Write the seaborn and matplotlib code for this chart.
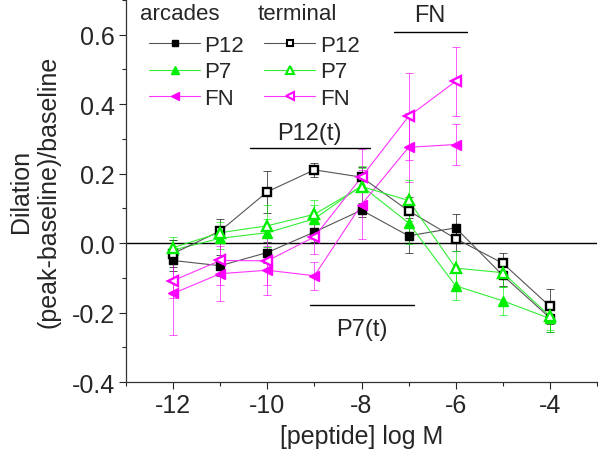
import numpy as np
import pandas as pd
import seaborn as sns
import matplotlib
matplotlib.use("Agg")
import matplotlib.pyplot as plt
from matplotlib.lines import Line2D
from matplotlib.ticker import MultipleLocator

## values
conc = [-12, -11, -10, -9, -8, -7, -6, -5, -4]
conc_fn = [-12, -11, -10, -9, -8, -7, -6]

p12_arc = [-0.050, -0.065, -0.027, 0.032, 0.095, 0.021, 0.044, -0.093, -0.215]
p12_arc_err = [0.03, 0.03, 0.03, 0.03, 0.02, 0.05, 0.04, 0.03, 0.04]
p12_term = [-0.030, 0.035, 0.148, 0.211, 0.190, 0.093, 0.013, -0.058, -0.182]
p12_term_err = [0.04, 0.035, 0.06, 0.02, 0.03, 0.04, 0.035, 0.03, 0.05]

p7_arc = [-0.020, 0.014, 0.030, 0.070, 0.165, 0.058, -0.123, -0.166, -0.217]
p7_arc_err = [0.03, 0.03, 0.04, 0.04, 0.05, 0.06, 0.04, 0.04, 0.04]
p7_term = [-0.013, 0.030, 0.050, 0.083, 0.163, 0.123, -0.072, -0.085, -0.210]
p7_term_err = [0.03, 0.03, 0.06, 0.04, 0.06, 0.06, 0.05, 0.04, 0.04]

fn_arc = [-0.145, -0.088, -0.078, -0.094, 0.111, 0.276, 0.284]
fn_arc_err = [0.12, 0.08, 0.07, 0.04, 0.10, 0.10, 0.06]
fn_term = [-0.108, -0.050, -0.051, 0.018, 0.190, 0.365, 0.466]
fn_term_err = [0.05, 0.07, 0.07, 0.05, 0.08, 0.125, 0.10]

sns.set_style("ticks")
plt.rcParams['font.family'] = ['Liberation Sans', 'DejaVu Sans']

fig = plt.figure(figsize=(6, 4.56), dpi=100)
ax = fig.add_axes([0.21, 0.16, 0.785, 0.84])

ax.axhline(0, color="black", lw=1, zorder=1)

series = [
    # x, y, err, colour, line colour, marker, filled, size
    (conc, p12_arc, p12_arc_err, "black", "#555555", "s", True, 5.5),
    (conc, p7_arc, p7_arc_err, "#00ee00", "#33ee33", "^", True, 7.5),
    (conc_fn, fn_arc, fn_arc_err, "#ff00ff", "#ff33ff", "<", True, 7.5),
    (conc, p12_term, p12_term_err, "black", "#555555", "s", False, 5.5),
    (conc, p7_term, p7_term_err, "#00ee00", "#33ee33", "^", False, 7.5),
    (conc_fn, fn_term, fn_term_err, "#ff00ff", "#ff33ff", "<", False, 7.5),
]

handles = []
for x, y, err, col, lcol, mk, filled, ms in series:
    df = pd.DataFrame({"x": x, "y": y})
    ax.errorbar(x, y, yerr=err, fmt="none", ecolor=col, elinewidth=0.6,
                capsize=3, capthick=0.6, alpha=0.75, zorder=2)
    sns.lineplot(data=df, x="x", y="y", ax=ax, color=lcol, lw=0.8,
                 marker=None, zorder=3, legend=False)
    ax.plot(x, y, ls="none", marker=mk, ms=ms,
            mfc=col if filled else "white", mec=col,
            mew=1.0 if filled else 1.7, zorder=4)
    handles.append(Line2D([], [], color=lcol, lw=0.8, marker=mk, ms=ms * 0.8,
                          mfc=col if filled else "white", mec=col,
                          mew=1.0 if filled else 1.5))

ax.set_xlim(-13, -3)
ax.set_ylim(-0.4, 0.703)
ax.xaxis.set_minor_locator(MultipleLocator(1))
ax.yaxis.set_minor_locator(MultipleLocator(0.1))
ax.set_yticks([-0.4, -0.2, 0.0, 0.2, 0.4, 0.6])
ax.set_yticklabels(["-0.4", "-0.2", "0.0", "0.2", "0.4", "0.6"])
ax.set_xticks([-12, -10, -8, -6, -4])
ax.set_xticklabels(["-12", "-10", "-8", "-6", "-4"])
ax.tick_params(which="major", direction="out", length=5, width=0.8,
               labelsize=18, pad=3)
ax.tick_params(which="minor", direction="out", length=3, width=0.8)
sns.despine(ax=ax)
for s in ["left", "bottom"]:
    ax.spines[s].set_linewidth(0.9)
    ax.spines[s].set_color("#333333")

ax.set_xlabel("[peptide] log M", fontsize=18, labelpad=5)
ax.set_ylabel("Dilation\n(peak-baseline)/baseline", fontsize=18,
              linespacing=1.2, labelpad=8)

# annotation bars
ax.plot([-7.3, -5.75], [0.609, 0.609], color="black", lw=1)
ax.text(-6.55, 0.625, "FN", fontsize=17, ha="center", va="bottom")
ax.plot([-10.37, -7.81], [0.273, 0.273], color="black", lw=1)
ax.text(-9.1, 0.285, "P12(t)", fontsize=17, ha="center", va="bottom")
ax.plot([-9.09, -6.88], [-0.179, -0.179], color="black", lw=1)
ax.text(-8.0, -0.215, "P7(t)", fontsize=17, ha="center", va="top")

# legend: two columns with headings
leg = ax.legend(handles, ["P12", "P7", "FN", "P12", "P7", "FN"], ncol=2,
                loc="upper left", bbox_to_anchor=(0.03, 0.93),
                frameon=False, fontsize=16, handlelength=2.3,
                handletextpad=0.2, columnspacing=0.9, labelspacing=0.26,
                borderaxespad=0)
ax.text(0.03, 0.99, "arcades", transform=ax.transAxes, fontsize=16,
        ha="left", va="top")
ax.text(0.28, 0.99, "terminal", transform=ax.transAxes, fontsize=16,
        ha="left", va="top")

fig.savefig("out.png", dpi=100)
